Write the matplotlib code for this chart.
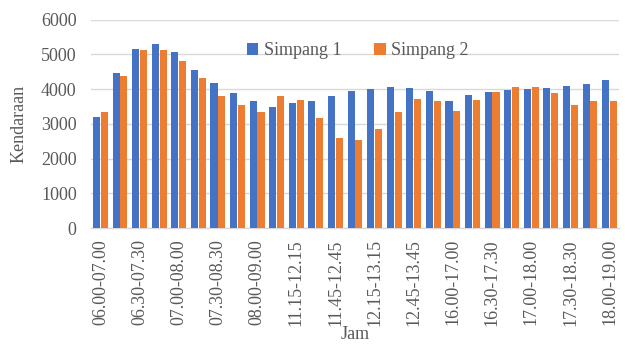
import matplotlib
matplotlib.use("Agg")
import matplotlib.pyplot as plt
import numpy as np

# 15-minute sliding one-hour periods
periods = [
    "06.00-07.00", "06.15-07.15", "06.30-07.30", "06.45-07.45", "07.00-08.00",
    "07.15-08.15", "07.30-08.30", "07.45-08.45", "08.00-09.00",
    "11.00-12.00", "11.15-12.15", "11.30-12.30", "11.45-12.45", "12.00-13.00",
    "12.15-13.15", "12.30-13.30", "12.45-13.45", "13.00-14.00",
    "16.00-17.00", "16.15-17.15", "16.30-17.30", "16.45-17.45", "17.00-18.00",
    "17.15-18.15", "17.30-18.30", "17.45-18.45", "18.00-19.00",
]
simpang1 = [3200, 4450, 5145, 5300, 5080, 4550, 4175, 3875, 3665,
            3480, 3600, 3655, 3790, 3940, 4000, 4050, 4020, 3940,
            3655, 3825, 3915, 3970, 3990, 4020, 4080, 4145, 4250]
simpang2 = [3355, 4385, 5115, 5125, 4800, 4320, 3800, 3540, 3340,
            3790, 3690, 3165, 2605, 2530, 2845, 3330, 3730, 3665,
            3365, 3690, 3915, 4050, 4075, 3895, 3540, 3645, 3655]
series_names = ["Simpang 1", "Simpang 2"]

blue = "#4472C4"
orange = "#ED7D31"
grid_c = "#D9D9D9"
text_c = "#595959"

plt.rcParams["font.family"] = ["Liberation Serif", "DejaVu Serif"]

fig = plt.figure(figsize=(6.25, 3.45), dpi=100)
ax = fig.add_axes([0.145, 0.339, 0.846, 0.604])

x = np.arange(len(periods))
w = 0.36
ax.bar(x - w / 2 - 0.02, simpang1, width=w, color=blue, label=series_names[0], zorder=3)
ax.bar(x + w / 2 + 0.02, simpang2, width=w, color=orange, label=series_names[1], zorder=3)

ax.set_xlim(-0.5, len(periods) - 0.5)
ax.set_ylim(0, 6000)
ax.set_yticks(np.arange(0, 6001, 1000))
ax.yaxis.grid(True, color=grid_c, linewidth=1.0, zorder=0)
ax.set_axisbelow(True)

ax.set_xticks(x[::2])
ax.set_xticklabels(periods[::2], rotation=90)
ax.tick_params(axis="both", length=0, labelsize=13, colors=text_c)
ax.tick_params(axis="x", pad=8)
ax.tick_params(axis="y", pad=10)

for s in ["top", "right", "left"]:
    ax.spines[s].set_visible(False)
ax.spines["bottom"].set_color(grid_c)
ax.spines["bottom"].set_linewidth(1.0)

ax.set_ylabel("Kendaraan", fontsize=13, color=text_c, labelpad=10)
ax.set_xlabel("Jam", fontsize=13, color=text_c, labelpad=0)

leg = ax.legend(loc="upper center", bbox_to_anchor=(0.505, 0.97), ncol=2,
                frameon=False, fontsize=13, handlelength=0.65, handleheight=0.65,
                handletextpad=0.3, columnspacing=1.8)
for t in leg.get_texts():
    t.set_color(text_c)

fig.savefig("out.png", dpi=100)
